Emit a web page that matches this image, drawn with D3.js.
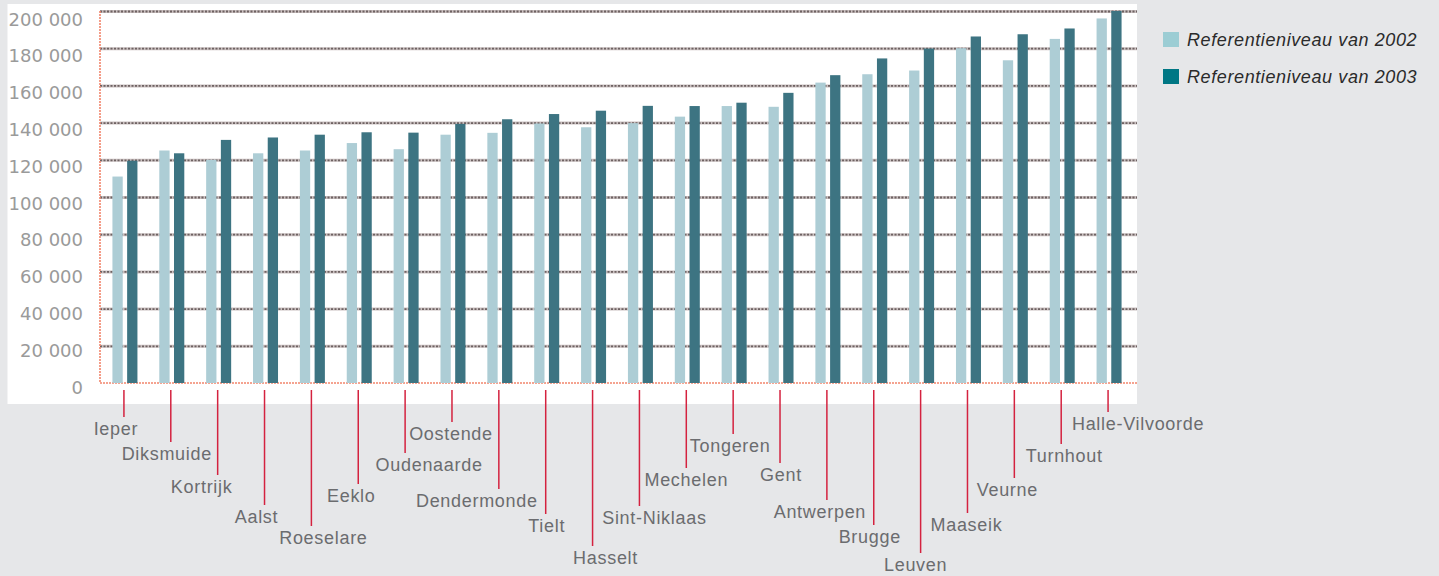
<!DOCTYPE html>
<html>
<head>
<meta charset="utf-8">
<script src="https://cdn.jsdelivr.net/npm/d3@7"></script>
<style>
  body { margin: 0; background: #e6e7e9; }
  svg { display: block; }
</style>
</head>
<body>
<div id="chart"></div>
<script>
// data
const cities = ['Ieper', 'Diksmuide', 'Kortrijk', 'Aalst', 'Roeselare', 'Eeklo', 'Oudenaarde', 'Oostende',
  'Dendermonde', 'Tielt', 'Hasselt', 'Sint-Niklaas', 'Mechelen', 'Tongeren', 'Gent', 'Antwerpen',
  'Brugge', 'Leuven', 'Maaseik', 'Veurne', 'Turnhout', 'Halle-Vilvoorde']
const ref2002 = [111000, 125000, 120000, 123500, 125000, 129000, 125700, 133500, 134500, 139500, 137500,
  139700, 143200, 148900, 148500, 161500, 166000, 168000, 180000, 173500, 185000, 196000]
const ref2003 = [119500, 123500, 130700, 132000, 133500, 134800, 134600, 139300, 141800, 144600, 146400,
  149000, 148900, 150700, 156000, 165500, 174500, 179800, 186300, 187500, 190600, 200000]
const series = ['Referentieniveau van 2002', 'Referentieniveau van 2003']
const yTicks = [0, 20000, 40000, 60000, 80000, 100000, 120000, 140000, 160000, 180000, 200000]

// layout of the staggered city labels (baseline y and shift from tick)
const labelBase = [435, 460, 493, 523, 544, 502, 471, 440, 507, 532, 564, 524, 486, 452, 481, 518, 543, 571, 531, 496, 462, 430]
const labelShift = [-8, -4, -16, -8, 12, -7, 24, -1, -22, 1, 13, 15, 0, -3, 1, -7, -4, -5, -1, -7, 3, 30]

const W = 1439, H = 576
const plot = { left: 100, right: 1137, top: 11, bottom: 383 }
const colors = ['#adcdd5', '#3d7482']
const legendColors = ['#9ccdd4', '#007784']

const svg = d3.select('#chart').append('svg')
  .attr('width', W)
  .attr('height', H)

svg.append('rect').attr('width', W).attr('height', H).attr('fill', '#e6e7e9')
// white panel
svg.append('rect')
  .attr('x', 7.5).attr('y', 4)
  .attr('width', plot.right - 7.5).attr('height', 400)
  .attr('fill', '#ffffff')

const y = d3.scaleLinear().domain([0, 200000]).range([plot.bottom, plot.top])
// tick labels sit a little below their grid lines
const yLabel = d3.scaleLinear().domain([0, 200000]).range([393, 25])

const x0 = d3.scaleBand().domain(cities).range([101.5, 1132.5])
const bw = x0.bandwidth()
const x1 = d3.scaleBand().domain(['2002', '2003'])
  .range([bw / 2 - 12.5, bw / 2 + 12.5])
  .paddingInner(0.3)

// grid lines: soft band with darker dots on top
const gridVals = yTicks.filter(d => d > 0)
const gridBase = svg.append('g')
  .attr('transform', `translate(${plot.left},0)`)
  .call(d3.axisLeft(y).tickValues(gridVals).tickSize(-(plot.right - plot.left)).tickFormat(''))
gridBase.select('.domain').remove()
gridBase.selectAll('.tick line')
  .attr('stroke', '#c9bfbf')
  .attr('stroke-width', 3)
const grid = svg.append('g')
  .attr('transform', `translate(${plot.left},0)`)
  .call(d3.axisLeft(y).tickValues(gridVals).tickSize(-(plot.right - plot.left)).tickFormat(''))
grid.select('.domain').remove()
grid.selectAll('.tick line')
  .attr('stroke', '#6e6262')
  .attr('stroke-width', 1.8)
  .attr('stroke-dasharray', '2,1.5')

// y labels
const fmt = d => d3.format(',')(d).replace(/,/g, ' ')
const yAxis = svg.append('g')
  .attr('transform', 'translate(83,0)')
  .call(d3.axisLeft(yLabel).tickValues(yTicks).tickSize(0).tickPadding(0).tickFormat(fmt))
yAxis.select('.domain').remove()
yAxis.selectAll('text')
  .attr('dy', 0)
  .attr('fill', '#9a9a9a')
  .style('font-family', '"DejaVu Sans", sans-serif')
  .style('font-size', '18px')

// orange axis lines
svg.append('line')
  .attr('x1', plot.left).attr('x2', plot.left)
  .attr('y1', plot.top).attr('y2', plot.bottom)
  .attr('stroke', '#f2856c').attr('stroke-width', 1.6).attr('stroke-dasharray', '2,1')
svg.append('line')
  .attr('x1', plot.left).attr('x2', plot.right)
  .attr('y1', y(0)).attr('y2', y(0))
  .attr('stroke', '#f2856c').attr('stroke-width', 1.6).attr('stroke-dasharray', '2,1')

// bars
const groups = svg.append('g').selectAll('g')
  .data(cities)
  .join('g')
  .attr('transform', d => `translate(${x0(d)},0)`)

groups.selectAll('rect')
  .data((d, i) => [{ k: '2002', v: ref2002[i] }, { k: '2003', v: ref2003[i] }])
  .join('rect')
  .attr('x', d => x1(d.k))
  .attr('width', x1.bandwidth())
  .attr('y', d => y(d.v))
  .attr('height', d => y(0) - y(d.v))
  .attr('fill', (d, i) => colors[i])

// category leader lines and labels
const cats = svg.append('g')
cities.forEach((c, i) => {
  let cx = x0(c) + bw / 2 - 1
  cats.append('line')
    .attr('x1', cx).attr('x2', cx)
    .attr('y1', 390).attr('y2', labelBase[i] - 18)
    .attr('stroke', '#d4223f').attr('stroke-width', 1.5)
  cats.append('text')
    .attr('x', cx + labelShift[i])
    .attr('y', labelBase[i])
    .attr('text-anchor', 'middle')
    .attr('fill', '#6b6c6f')
    .style('font-family', '"Liberation Sans", Arial, sans-serif')
    .style('font-size', '18px')
    .style('letter-spacing', '0.7px')
    .text(c)
})

// legend
const legend = svg.append('g').attr('transform', 'translate(1163,32)')
series.forEach((s, i) => {
  let g = legend.append('g').attr('transform', `translate(0,${i * 37})`)
  g.append('rect')
    .attr('width', 16).attr('height', 15)
    .attr('fill', legendColors[i])
  g.append('text')
    .attr('x', 24).attr('y', 14)
    .attr('fill', '#2b2b2b')
    .style('font-family', '"Liberation Sans", Arial, sans-serif')
    .style('font-size', '18px')
    .style('font-style', 'italic')
    .style('letter-spacing', '0.6px')
    .text(s)
})
</script>
</body>
</html>
